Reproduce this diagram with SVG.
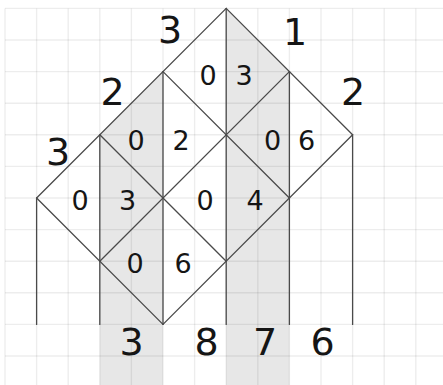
<svg xmlns="http://www.w3.org/2000/svg" width="443" height="385" viewBox="0 0 443 385">
<style>
.grid line{stroke:#000;stroke-opacity:0.07;stroke-width:1.4}
.shade{fill:#e7e7e7}
.lat line{stroke:#4a4a4a;stroke-width:1.3;stroke-linecap:round}
text{font-family:"DejaVu Sans","Liberation Sans",sans-serif;fill:#151515;text-anchor:middle}
.c{font-size:27px}
.l{font-size:38px}
</style>
<rect width="443" height="385" fill="#fff"/>
<g id="shading">
<polygon class="shade" points="99.8,134.8 163,71.6 163,385 99.8,385"/>
<polygon class="shade" points="226.2,8.4 289.4,71.6 289.4,385 226.2,385"/>
</g>
<g class="grid" id="grid">
<line x1="5" y1="8.4" x2="5" y2="385"/>
<line x1="36.6" y1="8.4" x2="36.6" y2="385"/>
<line x1="68.2" y1="8.4" x2="68.2" y2="385"/>
<line x1="99.8" y1="8.4" x2="99.8" y2="385"/>
<line x1="131.4" y1="8.4" x2="131.4" y2="385"/>
<line x1="163" y1="8.4" x2="163" y2="385"/>
<line x1="194.6" y1="8.4" x2="194.6" y2="385"/>
<line x1="226.2" y1="8.4" x2="226.2" y2="385"/>
<line x1="257.8" y1="8.4" x2="257.8" y2="385"/>
<line x1="289.4" y1="8.4" x2="289.4" y2="385"/>
<line x1="321" y1="8.4" x2="321" y2="385"/>
<line x1="352.6" y1="8.4" x2="352.6" y2="385"/>
<line x1="384.2" y1="8.4" x2="384.2" y2="385"/>
<line x1="415.8" y1="8.4" x2="415.8" y2="385"/>
<line x1="5" y1="8.4" x2="443" y2="8.4"/>
<line x1="5" y1="40" x2="443" y2="40"/>
<line x1="5" y1="71.6" x2="443" y2="71.6"/>
<line x1="5" y1="103.2" x2="443" y2="103.2"/>
<line x1="5" y1="134.8" x2="443" y2="134.8"/>
<line x1="5" y1="166.4" x2="443" y2="166.4"/>
<line x1="5" y1="198" x2="443" y2="198"/>
<line x1="5" y1="229.6" x2="443" y2="229.6"/>
<line x1="5" y1="261.2" x2="443" y2="261.2"/>
<line x1="5" y1="292.8" x2="443" y2="292.8"/>
<line x1="5" y1="324.4" x2="443" y2="324.4"/>
<line x1="5" y1="356" x2="443" y2="356"/>
</g>
<g class="lat" id="connectors">
<line x1="226.2" y1="8.4" x2="36.6" y2="198"/>
<line x1="289.4" y1="71.6" x2="99.8" y2="261.2"/>
<line x1="352.6" y1="134.8" x2="163" y2="324.4"/>
<line x1="226.2" y1="8.4" x2="352.6" y2="134.8"/>
<line x1="163" y1="71.6" x2="289.4" y2="198"/>
<line x1="99.8" y1="134.8" x2="226.2" y2="261.2"/>
<line x1="36.6" y1="198" x2="163" y2="324.4"/>
<line x1="36.6" y1="198" x2="36.6" y2="324.4"/>
<line x1="99.8" y1="134.8" x2="99.8" y2="324.4"/>
<line x1="163" y1="71.6" x2="163" y2="324.4"/>
<line x1="226.2" y1="8.4" x2="226.2" y2="324.4"/>
<line x1="289.4" y1="71.6" x2="289.4" y2="324.4"/>
<line x1="352.6" y1="134.8" x2="352.6" y2="324.4"/>
</g>
<g id="labels">
<text class="l" x="170" y="43">3</text>
<text class="l" x="295" y="45">1</text>
<text class="l" x="112.5" y="105">2</text>
<text class="l" x="353" y="105">2</text>
<text class="l" x="58" y="165">3</text>
</g>
<g id="cell-1-1"><text class="c" x="208" y="85">0</text><text class="c" x="244" y="85">3</text></g>
<g id="cell-2-1"><text class="c" x="136" y="150">0</text><text class="c" x="181" y="150">2</text></g>
<g id="cell-1-2"><text class="c" x="272.5" y="150">0</text><text class="c" x="306.5" y="150">6</text></g>
<g id="cell-3-1"><text class="c" x="80" y="210">0</text><text class="c" x="127.5" y="210">3</text></g>
<g id="cell-2-2"><text class="c" x="205" y="210">0</text><text class="c" x="255" y="210">4</text></g>
<g id="cell-3-2"><text class="c" x="135" y="273">0</text><text class="c" x="183" y="273">6</text></g>
<g id="result">
<text class="l" x="131.7" y="355">3</text>
<text class="l" x="206.7" y="355">8</text>
<text class="l" x="265" y="355">7</text>
<text class="l" x="322.7" y="355">6</text>
</g>
</svg>
